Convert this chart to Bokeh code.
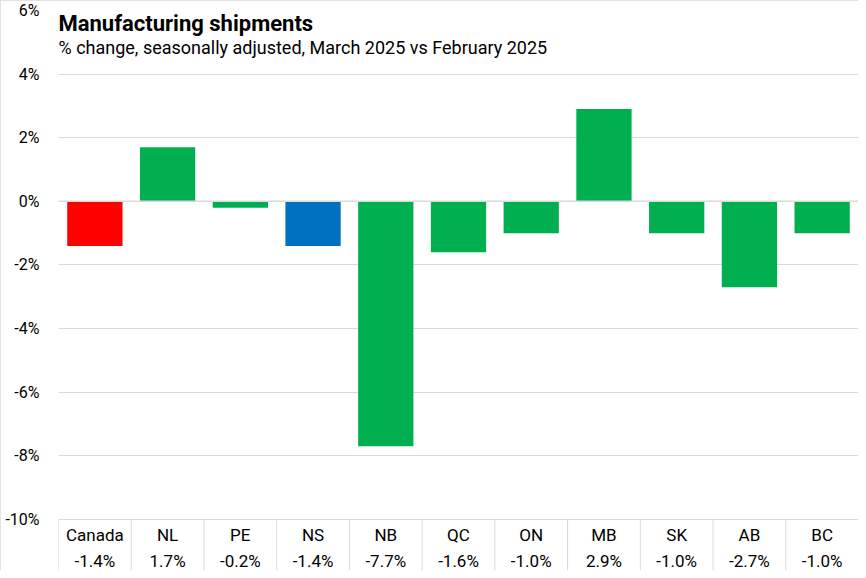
from bokeh.plotting import figure
from bokeh.models import ColumnDataSource, Range1d, FixedTicker, CustomJSTickFormatter
from bokeh.core.properties import value
from bokeh.embed import file_html
from bokeh.resources import INLINE

categories = ["Canada", "NL", "PE", "NS", "NB", "QC", "ON", "MB", "SK", "AB", "BC"]
values = [-1.4, 1.7, -0.2, -1.4, -7.7, -1.6, -1.0, 2.9, -1.0, -2.7, -1.0]
labels = ["-1.4%", "1.7%", "-0.2%", "-1.4%", "-7.7%", "-1.6%", "-1.0%", "2.9%", "-1.0%", "-2.7%", "-1.0%"]
colors = ["#FF0000", "#00B050", "#00B050", "#0070C0", "#00B050", "#00B050",
          "#00B050", "#00B050", "#00B050", "#00B050", "#00B050"]
y_ticks = [-10, -8, -6, -4, -2, 0, 2, 4, 6]
title = "Manufacturing shipments"
subtitle = "% change, seasonally adjusted, March 2025 vs February 2025"

FONT = "Roboto"
n = len(categories)
xs = [i + 0.5 for i in range(n)]

p = figure(width=858, height=570, output_backend="svg", toolbar_location=None,
           x_range=Range1d(0, n), y_range=Range1d(-11.604, 6),
           min_border_left=58, min_border_right=0, min_border_top=10, min_border_bottom=0)
p.outline_line_color = None
p.background_fill_color = "white"
p.border_fill_color = "white"
p.styles = {"outline": "1px solid #d9d9d9", "outline-offset": "-1px"}
p.xaxis.visible = False
p.xgrid.visible = False

p.yaxis.ticker = FixedTicker(ticks=y_ticks)
p.yaxis.formatter = CustomJSTickFormatter(code="return tick + '%';")
p.yaxis.axis_line_color = None
p.yaxis.major_tick_line_color = None
p.yaxis.minor_tick_line_color = None
p.yaxis.major_label_standoff = 13
p.yaxis.major_label_text_font = FONT
p.yaxis.major_label_text_font_size = "16px"
p.yaxis.major_label_text_color = "#000000"
p.ygrid.ticker = FixedTicker(ticks=y_ticks)
p.ygrid.grid_line_color = "#d9d9d9"
p.ygrid.grid_line_width = 1

src = ColumnDataSource(dict(x=xs, top=values, color=colors, cat=categories, lab=labels,
                            ycat=[-10.5] * n, yval=[-11.29] * n))
p.vbar(x="x", top="top", bottom=0, width=0.76, fill_color="color", line_color=None, source=src)

# zero line redrawn over bars
p.segment(x0=[0], y0=[0], x1=[n], y1=[0], line_color="#d9d9d9", line_width=1.5)

# data table below the chart
bx = list(range(n + 1))
p.segment(x0=bx, y0=[-10] * (n + 1), x1=bx, y1=[-12] * (n + 1), line_color="#d9d9d9", line_width=1)
p.text(x="x", y="ycat", text="cat", source=src, text_align="center", text_baseline="middle",
       text_font=value(FONT), text_font_size="17px", text_color="#000000")
p.text(x="x", y="yval", text="lab", source=src, text_align="center", text_baseline="middle",
       text_font=value(FONT), text_font_size="17px", text_color="#000000")

# titles
p.text(x=[0], y=[5.6], text=[title], text_align="left", text_baseline="middle",
       text_font=value(FONT), text_font_size="22px", text_font_style="bold", text_color="#000000")
p.text(x=[0], y=[4.84], text=[subtitle], text_align="left", text_baseline="middle",
       text_font=value(FONT), text_font_size="18px", text_color="#000000")

open("out.html", "w").write(file_html(p, INLINE))
